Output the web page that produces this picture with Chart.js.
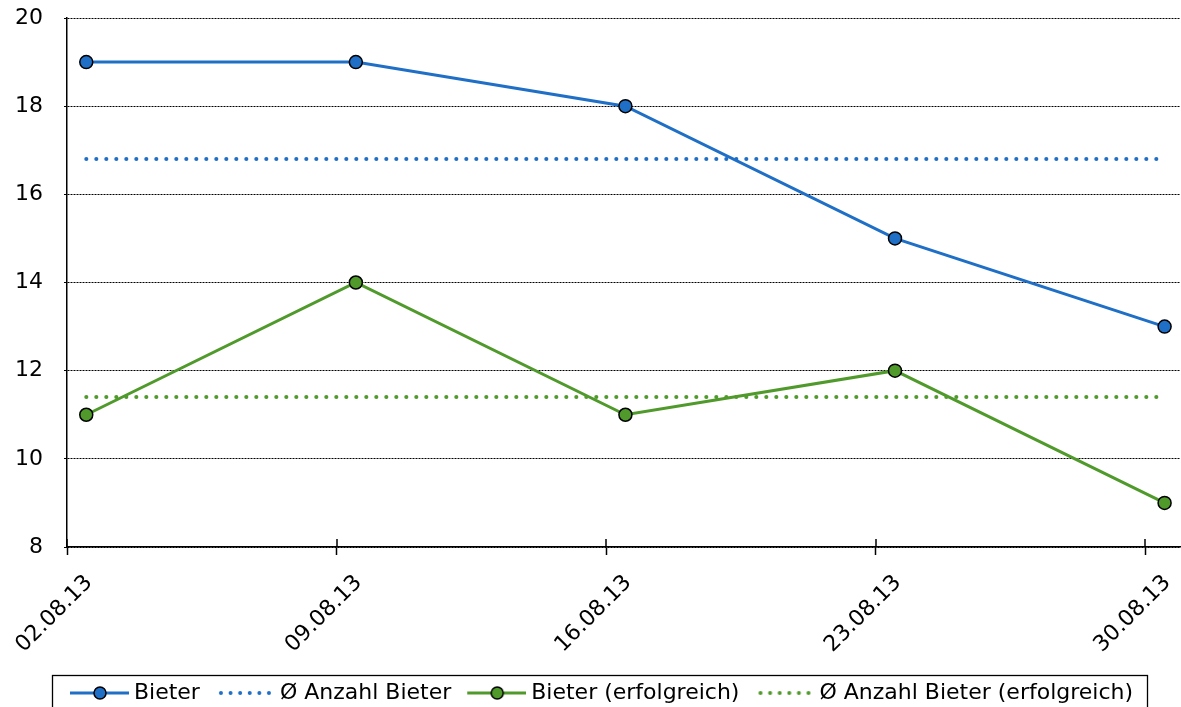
<!DOCTYPE html>
<html><head><meta charset="utf-8">
<script src="https://cdn.jsdelivr.net/npm/chart.js@4.4.0/dist/chart.umd.min.js"></script>
<style>html,body{margin:0;padding:0;background:#fff;overflow:hidden}</style>
</head><body>
<canvas id="c" width="1181" height="707"></canvas>
<script>
const dates = ["02.08.13","09.08.13","16.08.13","23.08.13","30.08.13"];
const bieter = [19,19,18,15,13];
const bieterErfolgreich = [11,14,11,12,9];
const avgBieter = [16.8,16.8,16.8,16.8,16.8];
const avgErfolgreich = [11.4,11.4,11.4,11.4,11.4];
const yTicks = [8,10,12,14,16,18,20];
const seriesLabels = ["Bieter","Ø Anzahl Bieter","Bieter (erfolgreich)","Ø Anzahl Bieter (erfolgreich)"];

const BLUE = '#1f6fc6', GREEN = '#4f9a2b';
const FONT = {family:'DejaVu Sans', size:22};
function dayNum(s){ const p=s.split('.').map(Number); return Date.UTC(2000+p[2],p[1]-1,p[0])/86400000; }
const d0 = dayNum(dates[0]);
const tickDays = dates.map(s => dayNum(s)-d0);
// Excel date axis, points placed in the middle of their day slot
const toPts = vals => vals.map((v,i)=>({x: tickDays[i]+0.5, y: v}));

function makeIcon(color, dotted){
  const c = document.createElement('canvas'); c.width = 74; c.height = 16;
  const g = c.getContext('2d');
  if (dotted){
    g.fillStyle=color;
    for(let i=0;i<6;i++){ g.beginPath(); g.arc(20+i*9.6,8,2,0,Math.PI*2); g.fill(); }
  } else {
    g.strokeStyle=color; g.lineWidth=3; g.beginPath(); g.moveTo(15,8); g.lineTo(74,8); g.stroke();
    g.beginPath(); g.arc(45,8,6,0,Math.PI*2); g.fillStyle=color; g.fill();
    g.lineWidth=1.5; g.strokeStyle='#000'; g.stroke();
  }
  return c;
}
const icons = [makeIcon(BLUE,false), makeIcon(BLUE,true), makeIcon(GREEN,false), makeIcon(GREEN,true)];

const decor = {
  id:'decor',
  afterDraw(chart){
    const ctx=chart.ctx, xs=chart.scales.x, a=chart.chartArea;
    ctx.save(); ctx.strokeStyle='#000'; ctx.lineWidth=1.5; ctx.setLineDash([]);
    xs.ticks.forEach(t=>{
      const px=Math.round(xs.getPixelForValue(t.value));
      ctx.beginPath(); ctx.moveTo(px,a.bottom-8); ctx.lineTo(px,a.bottom); ctx.stroke();
    });
    const lg=chart.legend, hb=lg.legendHitBoxes;
    if (hb && hb.length){
      const left = hb[0].left + 10 - 19;
      const last = hb[hb.length-1];
      const right = last.left + last.width + 14;
      ctx.lineWidth=1.3;
      ctx.strokeRect(Math.round(left)+0.5, Math.round(lg.top)+0.5, Math.round(right-left), 60);
    }
    ctx.restore();
  }
};

const lineDs = (label, vals, color, order) => ({
  label, data: toPts(vals), borderColor: color, backgroundColor: color, borderWidth: 3,
  pointRadius: 6.5, pointHoverRadius: 6.5, pointBorderColor:'#000', pointBackgroundColor: color,
  pointBorderWidth: 1.5, order, clip: false
});
const avgDs = (label, vals, color, order) => ({
  label, data: toPts(vals), borderColor: color, backgroundColor: color, borderWidth: 4,
  borderDash:[0.1,9.9], borderCapStyle:'round', pointRadius: 0, pointHoverRadius: 0, order
});
const noPad = s => { s.paddingLeft = 0; s.paddingRight = 0; s.paddingTop = 0; s.paddingBottom = 0; };

new Chart(document.getElementById('c'), {
  type:'line',
  data:{ datasets:[
    lineDs(seriesLabels[0], bieter, BLUE, 0),
    avgDs(seriesLabels[1], avgBieter, BLUE, 2),
    lineDs(seriesLabels[2], bieterErfolgreich, GREEN, 1),
    avgDs(seriesLabels[3], avgErfolgreich, GREEN, 3)
  ]},
  options:{
    responsive:false, animation:false,
    layout:{autoPadding:false, padding:{top:18,right:1,left:14,bottom:0}},
    plugins:{
      tooltip:{enabled:false},
      legend:{
        position:'bottom', maxHeight:32,
        labels:{
          usePointStyle:true, pointStyleWidth:62, padding:7, color:'#000', font:FONT,
          generateLabels(chart){
            return chart.data.datasets.map((ds,i)=>({
              text: ds.label, pointStyle: icons[i], datasetIndex:i, hidden:false,
              lineWidth:0, strokeStyle:'rgba(0,0,0,0)', fillStyle:'rgba(0,0,0,0)', fontColor:'#000'
            }));
          }
        }
      }
    },
    scales:{
      x:{
        type:'linear', min:0, max:28.9,
        afterBuildTicks(s){ s.ticks = tickDays.map(v=>({value:v})); },
        afterFit(s){ s.height = 128; noPad(s); },
        grid:{ drawOnChartArea:false, drawTicks:true, tickLength:8, tickColor:'#000', tickWidth:1.5 },
        border:{ display:true, color:'#000', width:1.5 },
        ticks:{
          autoSkip:false, minRotation:45, maxRotation:45, labelOffset:22, padding:15,
          color:'#000', font:FONT,
          callback(v){ const i=tickDays.indexOf(v); return i>=0 ? dates[i] : ''; }
        }
      },
      y:{
        min:8, max:20,
        afterBuildTicks(s){ s.ticks = yTicks.map(v=>({value:v})); },
        afterFit(s){ s.width = 53; noPad(s); },
        grid:{ color:'#000', lineWidth:1, tickLength:3, tickColor:'#000', tickWidth:1, tickBorderDash:[2,1] },
        border:{ display:true, color:'#000', width:1.5, dash:[2,1] },
        ticks:{ padding:21, color:'#000', font:FONT }
      }
    }
  },
  plugins:[decor]
});
</script>
</body></html>
